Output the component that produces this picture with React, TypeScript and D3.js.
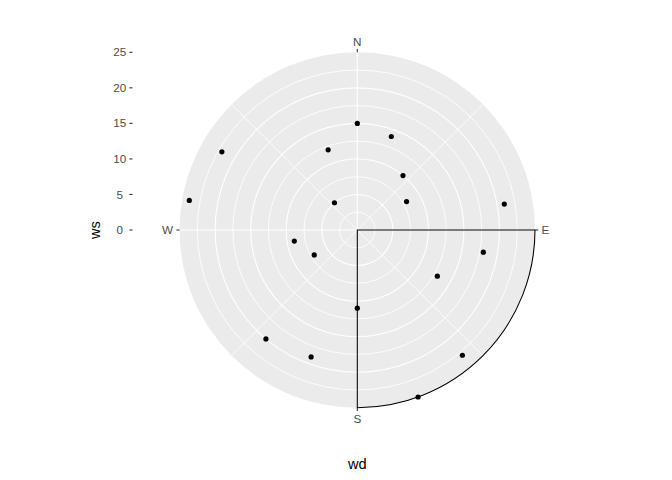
import React from "react";
import * as d3 from "d3";

const wd = [0, 20, 40, 60, 80, 100, 120, 140, 160, 180, 200, 220, 240, 260, 280, 300, 320, 340];
const ws = [15, 14, 10, 8, 21, 18, 13, 23, 25, 11, 19, 20, 7, 9, 24, 22, 5, 12];
const rTicks = [0, 5, 10, 15, 20, 25];
const rMinor = [2.5, 7.5, 12.5, 17.5, 22.5];
const thetaBreaks = [0, 90, 180, 270];
const thetaLabels = ["N", "E", "S", "W"];
const thetaMinor = [45, 135, 225, 315];
const rectWd = [90, 180];
const rectWs = [0, 25];

const W = 672;
const H = 480;
const cx = 357.3;
const cy = 230;
const R = 177.7;

export default function App() {
  const r = d3.scaleLinear().domain([0, 25]).range([0, R]);
  const t = d3.scaleLinear().domain([0, 360]).range([0, 2 * Math.PI]);
  const px = (a: number, rad: number) => cx + rad * Math.sin(t(a));
  const py = (a: number, rad: number) => cy - rad * Math.cos(t(a));

  const wedge = d3
    .arc()
    .innerRadius(r(rectWs[0]))
    .outerRadius(r(rectWs[1]))
    .startAngle(t(rectWd[0]))
    .endAngle(t(rectWd[1]))({} as any) as string;

  const font = "'Liberation Sans', Arial, sans-serif";
  const majorCircles = rTicks.filter((v) => v > 0 && v < 25);

  return (
    <svg width={W} height={H} style={{ position: "absolute", left: 0, top: 0, background: "#fff" }}>
      <circle cx={cx} cy={cy} r={R} fill="#EBEBEB" />
      {rMinor.map((v) => (
        <circle key={"mi" + v} cx={cx} cy={cy} r={r(v)} fill="none" stroke="#fff" strokeWidth={0.85} />
      ))}
      {majorCircles.map((v) => (
        <circle key={"ma" + v} cx={cx} cy={cy} r={r(v)} fill="none" stroke="#fff" strokeWidth={1.07} />
      ))}
      {thetaMinor.map((a) => (
        <line key={"tm" + a} x1={cx} y1={cy} x2={px(a, R)} y2={py(a, R)} stroke="#fff" strokeWidth={0.85} />
      ))}
      {thetaBreaks.map((a) => (
        <line key={"tM" + a} x1={cx} y1={cy} x2={px(a, R)} y2={py(a, R)} stroke="#fff" strokeWidth={1.07} />
      ))}
      <path d={wedge} transform={`translate(${cx},${cy})`} fill="none" stroke="#000" strokeWidth={1.07} />
      {wd.map((a, i) => (
        <circle key={"p" + i} cx={px(a, r(ws[i]))} cy={py(a, r(ws[i]))} r={2.6} fill="#000" />
      ))}
      {thetaBreaks.map((a, i) => {
        const x1 = px(a, R);
        const y1 = py(a, R);
        const x2 = px(a, R + 3.2);
        const y2 = py(a, R + 3.2);
        const lx = px(a, R + 6.5);
        const ly = py(a, R + 6.5);
        let anchor = "middle";
        let dy = "0.35em";
        if (a === 0) dy = "0em";
        if (a === 180) dy = "0.72em";
        if (a === 90) anchor = "start";
        if (a === 270) anchor = "end";
        return (
          <g key={"tl" + a}>
            <line x1={x1} y1={y1} x2={x2} y2={y2} stroke="#333" strokeWidth={1.07} />
            <text x={lx} y={ly} dy={dy} textAnchor={anchor} fontFamily={font} fontSize={11.7} fill="#4D4D4D">
              {thetaLabels[i]}
            </text>
          </g>
        );
      })}
      {rTicks.map((v) => (
        <g key={"rt" + v}>
          <line x1={129.3} x2={132.5} y1={cy - r(v)} y2={cy - r(v)} stroke="#333" strokeWidth={1.07} />
          <text x={119.7} y={cy - r(v)} dy="0.35em" textAnchor="middle" fontFamily={font} fontSize={11.7} fill="#4D4D4D">
            {v}
          </text>
        </g>
      ))}
      <text x={cx} y={469} textAnchor="middle" fontFamily={font} fontSize={14.6} fill="#000">
        wd
      </text>
      <text transform={`translate(100,${cy}) rotate(-90)`} textAnchor="middle" fontFamily={font} fontSize={14.6} fill="#000">
        ws
      </text>
    </svg>
  );
}
